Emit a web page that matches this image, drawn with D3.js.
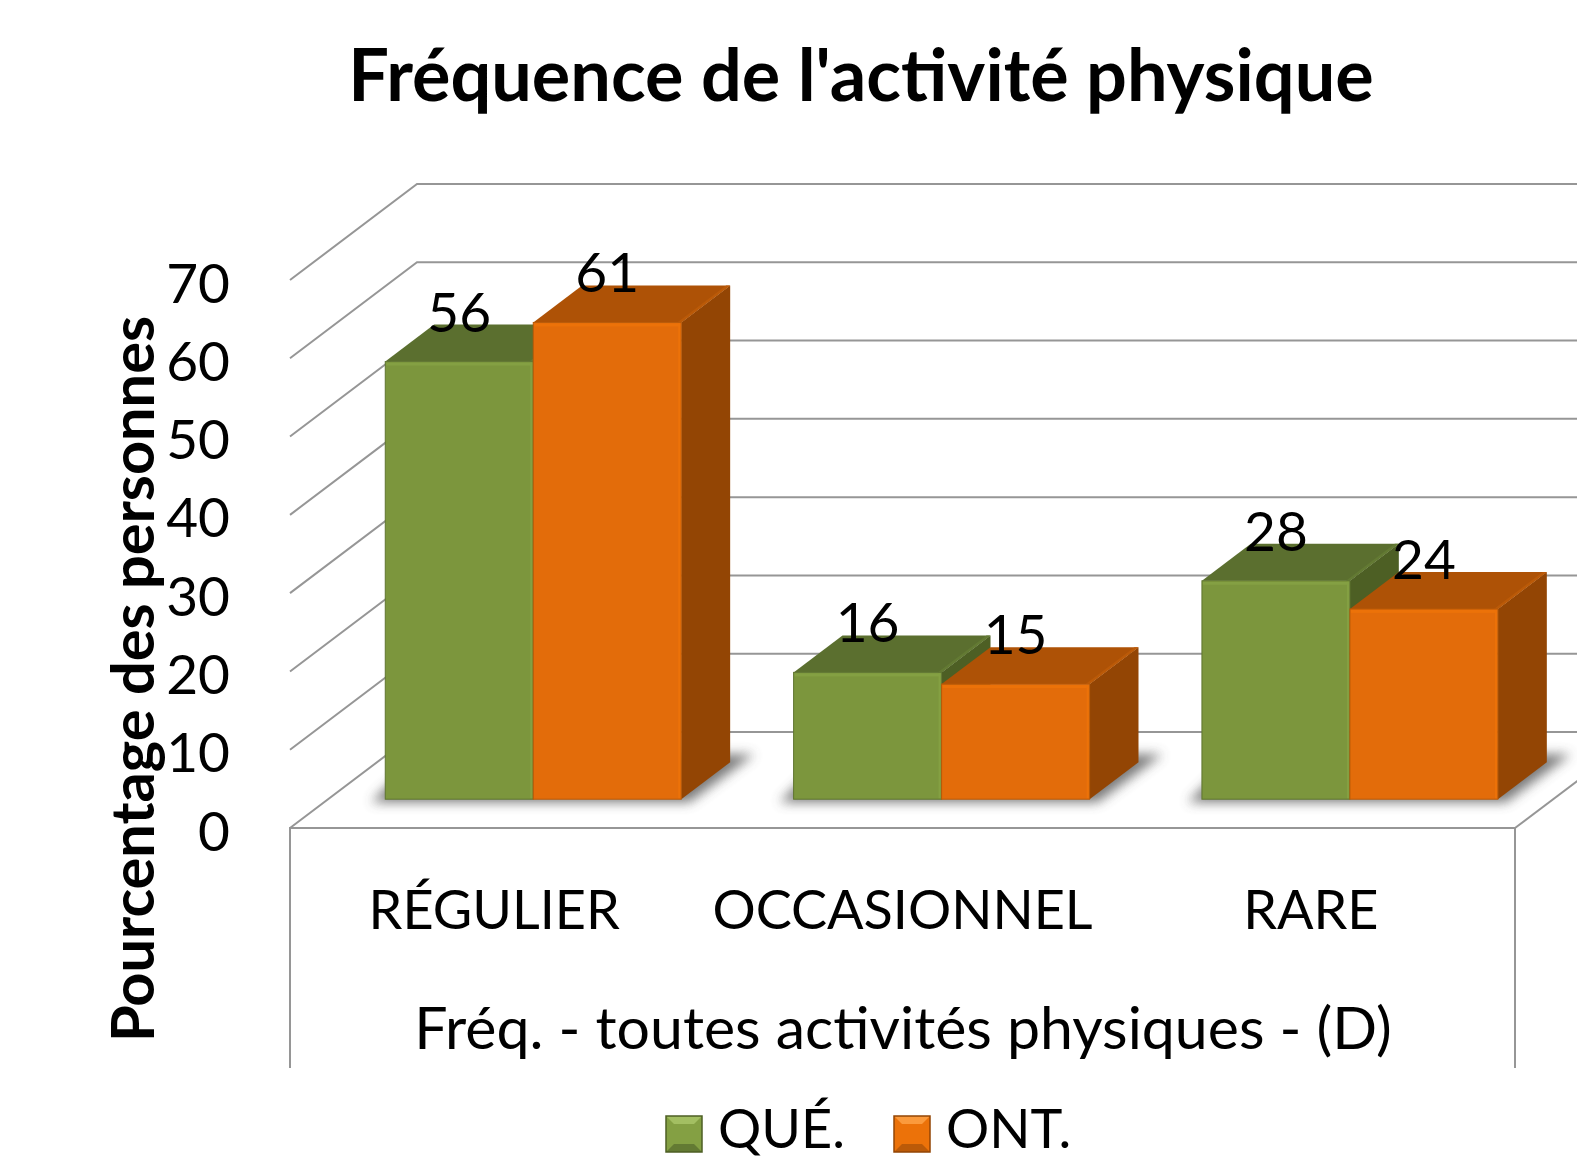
<!DOCTYPE html>
<html>
<head>
<meta charset="utf-8">
<script src="https://cdn.jsdelivr.net/npm/d3@7"></script>
<style>
html, body { margin: 0; padding: 0; background: #fff; }
svg { display: block; }
text { font-family: Lato, "Open Sans", sans-serif; fill: #000; }
.grid { stroke: #969696; stroke-width: 2; fill: none; }
</style>
</head>
<body>
<div id="chart"></div>
<script>
let categories = ["RÉGULIER", "OCCASIONNEL", "RARE"];
let series = ["QUÉ.", "ONT."];
// bar heights, labels are these rounded
let valuesQue = [55.9, 16.2, 27.9];
let valuesOnt = [60.9, 14.7, 24.3];
let yTicks = [0, 10, 20, 30, 40, 50, 60, 70];

let width = 1577, height = 1160;

let colors = {
    "QUÉ.": { front: "#7c963d", top: "#5b6f2f", side: "#4d5f24", edge: "#5f7530", light: "#84a043", bevel: "#637a33", bright: "#a3bf62" },
    "ONT.": { front: "#e36c0a", top: "#ae5206", side: "#934504", edge: "#b85a08", light: "#ec7209", bevel: "#bb5a08", bright: "#fb9a3c" }
};

// floor: front edge, and how far the back wall is pushed
let floorLeft = 290, floorRight = 1515,
    wallDx = 127, wallDy = 96,
    barShift = 0.3, barDepth = 0.385;

let x = d3.scaleBand().domain(categories).range([floorLeft, floorRight]);
let xSeries = d3.scaleBand().domain(series).range([-147, 149]);
let y = d3.scaleLinear().domain([0, 70]).range([828, 280]);

let svg = d3.select("#chart").append("svg")
    .attr("width", width)
    .attr("height", height);

let defs = svg.append("defs");
defs.append("filter")
    .attr("id", "blur")
    .attr("x", "-20%").attr("y", "-50%").attr("width", "140%").attr("height", "200%")
    .append("feGaussianBlur")
    .attr("stdDeviation", 6);

// walls
let grid = svg.append("g");
grid.selectAll(".back")
    .data(yTicks)
    .enter().append("path")
    .attr("class", "grid back")
    .attr("d", function(d) {
        return d3.line()([[floorLeft, y(d)], [floorLeft + wallDx, y(d) - wallDy], [width, y(d) - wallDy]]);
    });

// front of the floor and the two posts under it
grid.append("path")
    .attr("class", "grid")
    .attr("d", d3.line()([[floorLeft, 1068], [floorLeft, y(0)], [floorRight, y(0)], [floorRight, 1068]]));
grid.append("path")
    .attr("class", "grid")
    .attr("d", d3.line()([[floorRight, y(0)], [floorRight + wallDx, y(0) - wallDy]]));

// axes
let yAxis = d3.axisLeft(y).tickValues(yTicks).tickSize(0).tickPadding(60);
let yg = svg.append("g")
    .attr("transform", "translate(" + floorLeft + ",0)")
    .call(yAxis);
yg.select(".domain").remove();
yg.selectAll("text").style("font-size", "55px").style("font-family", "Lato").attr("dy", ".40em");

let xAxis = d3.axisBottom(x).tickSize(0).tickPadding(63);
let xg = svg.append("g")
    .attr("transform", "translate(0," + y(0) + ")")
    .call(xAxis);
xg.select(".domain").remove();
xg.selectAll("text").style("font-size", "54px").style("font-family", "Lato");

// bars
let rows = [];
categories.forEach(function(c, i) {
    rows.push({ cat: c, s: "QUÉ.", v: valuesQue[i] });
    rows.push({ cat: c, s: "ONT.", v: valuesOnt[i] });
});

let offX = barShift * wallDx, offY = barShift * wallDy,
    dpX = barDepth * wallDx, dpY = barDepth * wallDy;

function poly(p) { return p.map(function(a) { return a.join(","); }).join(" "); }
function bx(d) { return x(d.cat) + x.bandwidth() / 2 + offX + xSeries(d.s); }
function by(v) { return y(v) - offY; }

svg.append("g").selectAll("polygon")
    .data(categories)
    .enter().append("polygon")
    .attr("fill", "#4d4d4d")
    .attr("opacity", 0.75)
    .attr("filter", "url(#blur)")
    .attr("points", function(c) {
        let l = x(c) + x.bandwidth() / 2 + offX + xSeries.range()[0], r = l + 296, b = by(0);
        return poly([[l - 14, b + 3], [r + 8, b + 3], [r + dpX + 24, b - dpY - 8], [l + dpX - 14, b - dpY - 8]]);
    });

let bars = svg.append("g").selectAll("g")
    .data(rows)
    .enter().append("g");

bars.each(function(d) {
    let g = d3.select(this), c = colors[d.s],
        l = bx(d), w = xSeries.bandwidth(), r = l + w, t = by(d.v), b = by(0);

    g.append("polygon").attr("fill", c.side)
        .attr("points", poly([[r, t], [r + dpX, t - dpY], [r + dpX, b - dpY], [r, b]]));
    g.append("polygon").attr("fill", c.top)
        .attr("points", poly([[l, t], [l + dpX, t - dpY], [r + dpX, t - dpY], [r, t]]));
    // lighter rim where top meets side
    g.append("polygon").attr("fill", c.bevel)
        .attr("points", poly([[r - 4, t], [r + dpX - 4, t - dpY], [r + dpX, t - dpY], [r, t]]));
    g.append("rect").attr("fill", c.front)
        .attr("x", l).attr("y", t).attr("width", w).attr("height", b - t)
        .attr("stroke", c.edge).attr("stroke-width", 1);
    g.append("rect").attr("fill", c.light)
        .attr("x", l + 1).attr("y", t + 1).attr("width", w - 2).attr("height", 3);
    g.append("rect").attr("fill", c.light)
        .attr("x", r - 3).attr("y", t + 1).attr("width", 2).attr("height", b - t - 2);
});

// value labels
svg.append("g").selectAll("text")
    .data(rows)
    .enter().append("text")
    .attr("x", function(d) { return bx(d) + xSeries.bandwidth() / 2; })
    .attr("y", function(d) { return by(d.v) - 30; })
    .attr("text-anchor", "middle")
    .style("font-size", "55px")
    .text(function(d) { return d3.format(".0f")(d.v); });

// titles
svg.append("text")
    .attr("x", 861).attr("y", 101)
    .attr("text-anchor", "middle")
    .style("font-size", "72px").style("font-weight", 700)
    .text("Fréquence de l'activité physique");

svg.append("text")
    .attr("transform", "translate(154,679) rotate(-90)")
    .attr("text-anchor", "middle")
    .style("font-size", "59.5px").style("font-weight", 700)
    .text("Pourcentage des personnes");

svg.append("text")
    .attr("x", 903).attr("y", 1049)
    .attr("text-anchor", "middle")
    .style("font-size", "59px")
    .text("Fréq. - toutes activités physiques - (D)");

// legend
let legendX = { "QUÉ.": 666, "ONT.": 894 }, swatch = 36, legendY = 1116;
let legend = svg.append("g").selectAll("g")
    .data(series)
    .enter().append("g")
    .attr("transform", function(d) { return "translate(" + legendX[d] + "," + legendY + ")"; });

legend.each(function(d) {
    let g = d3.select(this), c = colors[d], s = swatch, b = 8;
    g.append("rect").attr("width", s).attr("height", s).attr("fill", c.light);
    g.append("polygon").attr("fill", c.bright)
        .attr("points", poly([[0, 0], [s, 0], [s - b, b], [b, b]]));
    g.append("polygon").attr("fill", c.bevel)
        .attr("points", poly([[0, s], [s, s], [s - b, s - b], [b, s - b]]));
    g.append("rect").attr("width", s).attr("height", s).attr("fill", "none")
        .attr("stroke", c.side).attr("stroke-width", 1.5);
    // kept a little high so the descender box stays inside the page
    g.append("text")
        .attr("x", s + 16).attr("y", 32)
        .style("font-size", "54px")
        .text(d);
});
</script>
</body>
</html>
